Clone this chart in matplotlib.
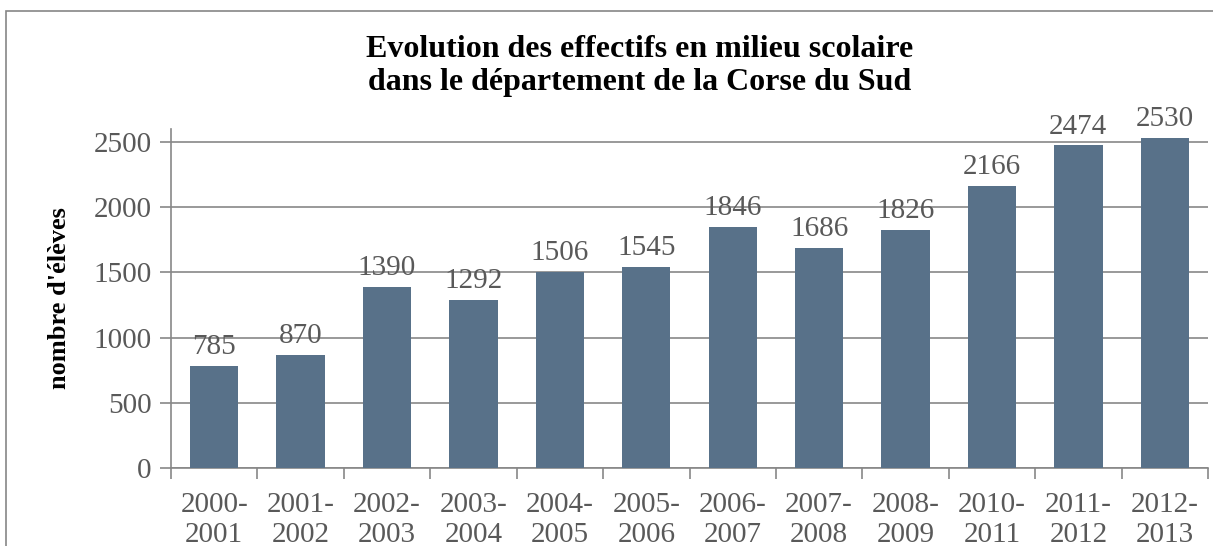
import matplotlib
matplotlib.use('Agg')
import matplotlib.pyplot as plt
from matplotlib.patches import Rectangle

plt.rcParams['font.family'] = ['Liberation Serif', 'DejaVu Serif']

# data
years = ['2000-\n2001', '2001-\n2002', '2002-\n2003', '2003-\n2004', '2004-\n2005',
         '2005-\n2006', '2006-\n2007', '2007-\n2008', '2008-\n2009', '2010-\n2011',
         '2011-\n2012', '2012-\n2013']
eleves = [785, 870, 1390, 1292, 1506, 1545, 1846, 1686, 1826, 2166, 2474, 2530]
yticks = [0, 500, 1000, 1500, 2000, 2500]

W, H = 1213, 546
fig = plt.figure(figsize=(W / 100, H / 100), dpi=100)
ax = fig.add_axes([171 / W, 1 - 468 / H, (1208 - 171) / W, (468 - 129) / H])

bar_col = '#587189'
txt_col = '#595959'
grid_col = '#878787'

x = list(range(len(years)))
bars = ax.bar(x, eleves, width=0.56, color=bar_col, zorder=3)
for b, v in zip(bars, eleves):
    ax.text(b.get_x() + b.get_width() / 2, v + 45, str(v), ha='center', va='bottom',
            fontsize=21, color=txt_col)

ax.set_xlim(-0.5, len(years) - 0.5)
ax.set_ylim(0, 2600)
ax.set_yticks(yticks)
ax.set_yticklabels([str(t) for t in yticks], fontsize=21, color=txt_col)
ax.yaxis.grid(True, color=grid_col, linewidth=1.2, zorder=0)
ax.tick_params(axis='y', length=8, width=1.2, color=grid_col, pad=6)

# x ticks at category boundaries, labels centered under bars
ax.set_xticks([i - 0.5 for i in range(len(years) + 1)])
ax.set_xticklabels([])
ax.set_xticks(x, minor=True)
ax.set_xticklabels(years, minor=True, fontsize=21, color=txt_col, linespacing=1.2)
ax.tick_params(axis='x', which='major', length=8, width=1.2, color=grid_col)
ax.tick_params(axis='x', which='minor', length=0, pad=17)

for s in ['top', 'right']:
    ax.spines[s].set_visible(False)
for s in ['left', 'bottom']:
    ax.spines[s].set_color(grid_col)
    ax.spines[s].set_linewidth(1.2)

ax.set_ylabel("nombre d'élèves", fontsize=19, fontweight='bold', color='black', labelpad=16)

fig.text(640 / W, 1 - 66 / H,
         'Evolution des effectifs en milieu scolaire\ndans le département de la Corse du Sud',
         ha='center', va='center', fontsize=23, fontweight='bold', linespacing=1.15)

# chart frame
fig.patches.append(Rectangle((6 / W, -0.1), 1.1, 1.1 - 11 / H, transform=fig.transFigure,
                             fill=False, edgecolor='#868686', linewidth=1.2))

fig.savefig('out.png', dpi=100)
